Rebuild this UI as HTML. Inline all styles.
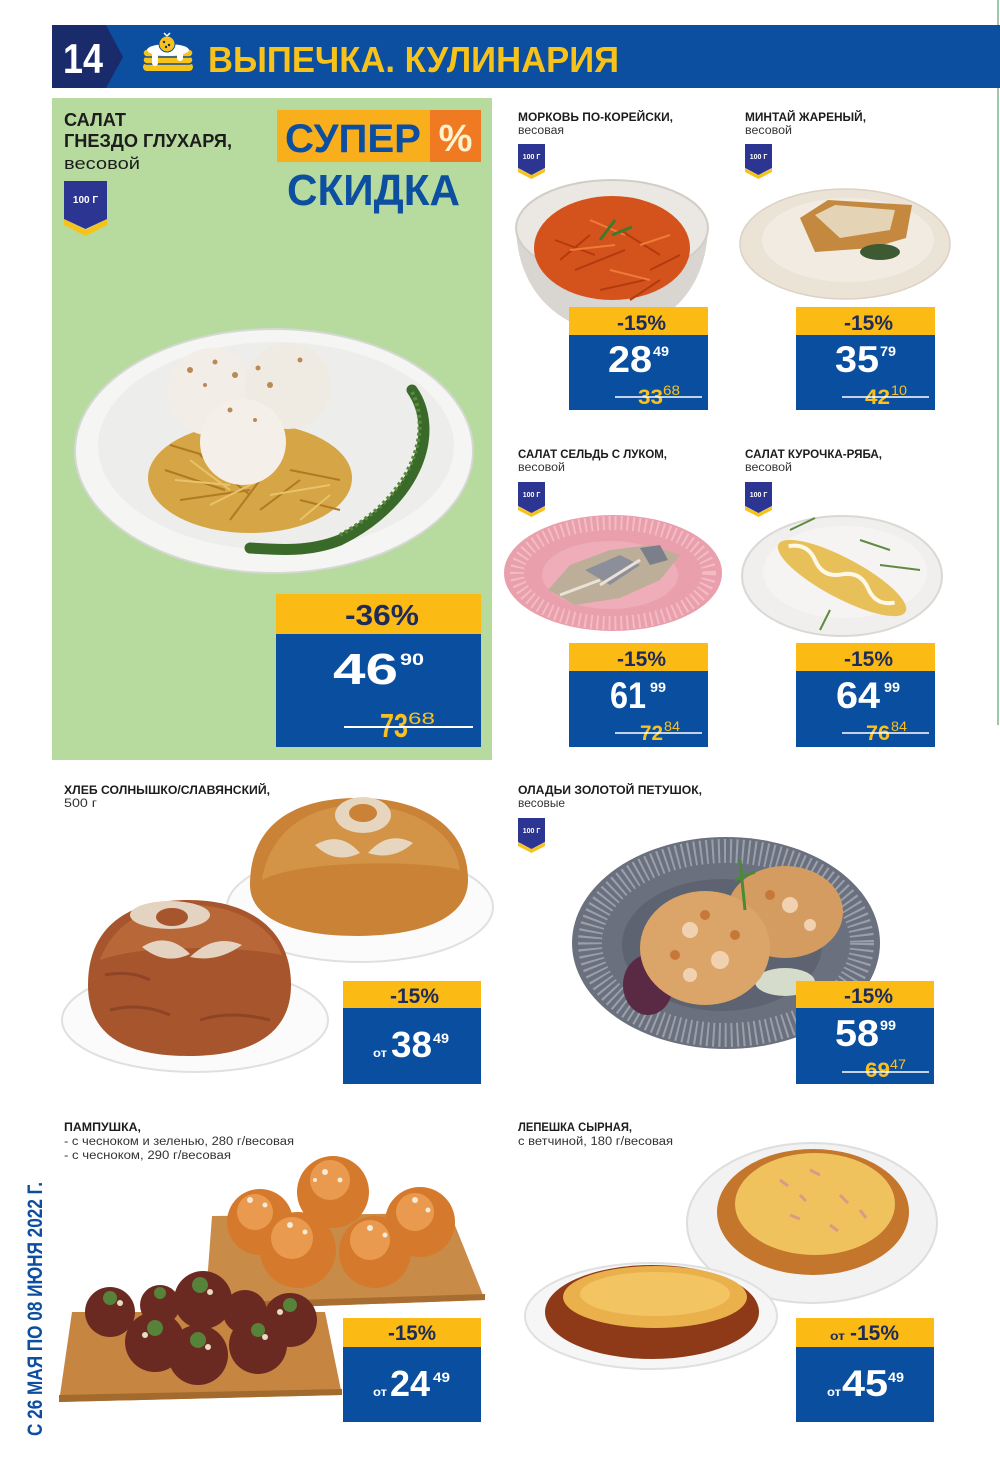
<!DOCTYPE html>
<html><head><meta charset="utf-8"><style>
html,body{margin:0;padding:0;background:#fff;}
svg{display:block;}
text{font-family:"Liberation Sans","DejaVu Sans",sans-serif;}
.b{font-weight:bold;}
</style></head><body>
<svg width="1000" height="1462" viewBox="0 0 1000 1462" xmlns="http://www.w3.org/2000/svg">
<rect width="1000" height="1462" fill="#fff"/>
<!-- right edge line -->
<rect x="997" y="0" width="2" height="725" fill="#9cc8a2"/>

<!-- HEADER -->
<rect x="52" y="25" width="948" height="63" fill="#0c4ea0"/>
<polygon points="52,25 106,25 123,57 106,88 52,88" fill="#1a2b6b"/>
<text x="63" y="73" class="b" font-size="42" fill="#fff" textLength="40" lengthAdjust="spacingAndGlyphs">14</text>
<!-- icon -->
<g>
<rect x="143" y="63" width="50" height="8" rx="4" fill="#f7c31a"/>
<rect x="143" y="56" width="50" height="8" rx="4" fill="#f7c31a" stroke="#0c4ea0" stroke-width="1.5"/>
<rect x="143" y="49" width="50" height="8" rx="4" fill="#f7c31a" stroke="#0c4ea0" stroke-width="1.5"/>
<ellipse cx="168" cy="50" rx="21" ry="6" fill="#fff"/>
<rect x="152" y="50" width="6" height="16" rx="3" fill="#fff"/>
<rect x="177" y="50" width="6" height="11" rx="3" fill="#fff"/>
<circle cx="167" cy="44" r="8" fill="#f7c31a" stroke="#0c4ea0" stroke-width="1"/>
<circle cx="164" cy="42" r="1.2" fill="#1a2b6b"/><circle cx="169" cy="45" r="1.2" fill="#1a2b6b"/><circle cx="166" cy="47" r="1.2" fill="#1a2b6b"/>
<path d="M167 36 l-3 -3 M167 36 l3 -3" stroke="#fff" stroke-width="1.5"/>
</g>
<text x="208" y="72" class="b" font-size="36" fill="#f7c31a" textLength="411" lengthAdjust="spacingAndGlyphs">ВЫПЕЧКА. КУЛИНАРИЯ</text>

<!-- GREEN PANEL -->
<rect x="52" y="98" width="440" height="662" fill="#b7da9f"/>
<text x="64" y="126" class="b" font-size="18" fill="#1c1c1c" textLength="62" lengthAdjust="spacingAndGlyphs">САЛАТ</text>
<text x="64" y="147" class="b" font-size="18" fill="#1c1c1c" textLength="168" lengthAdjust="spacingAndGlyphs">ГНЕЗДО ГЛУХАРЯ,</text>
<text x="64" y="169" font-size="17" fill="#1c1c1c" textLength="76" lengthAdjust="spacingAndGlyphs">весовой</text>
<!-- big badge -->
<polygon points="64,219 85.5,230 107,219 107,225 85.5,236 64,225" fill="#f7c31a"/>
<polygon points="64,181 107,181 107,219 85.5,229 64,219" fill="#2d3592"/>
<text x="85.5" y="203" class="b" font-size="10" fill="#fff" text-anchor="middle">100 Г</text>
<!-- super skidka -->
<rect x="277" y="110" width="154" height="52" fill="#f9ae1c"/>
<rect x="430" y="110" width="51" height="52" fill="#f07a22"/>
<text x="285" y="152" class="b" font-size="40" fill="#0c4ea0" textLength="136" lengthAdjust="spacingAndGlyphs">СУПЕР</text>
<text x="455.5" y="151" class="b" font-size="38" fill="#fff2d0" text-anchor="middle">%</text>
<text x="287" y="205" class="b" font-size="44" fill="#0c4ea0" textLength="173" lengthAdjust="spacingAndGlyphs">СКИДКА</text>
<!-- main plate -->
<ellipse cx="274" cy="451" rx="199" ry="122" fill="#f5f5f3" stroke="#d5d8d2" stroke-width="2"/>
<ellipse cx="276" cy="446" rx="178" ry="104" fill="#ededeb"/>
<ellipse cx="250" cy="478" rx="102" ry="55" fill="#d6a545"/>
<g stroke="#b07a25" stroke-width="2" fill="none">
<path d="M165 470 l60 20 M180 500 l70 -10 M200 455 l50 40 M260 510 l40 -30 M290 470 l50 10 M170 445 l50 15 M230 520 l30 -40 M300 500 l40 10"/>
</g>
<g stroke="#e8c36a" stroke-width="2" fill="none">
<path d="M175 480 l55 5 M210 505 l50 -25 M270 495 l60 -10 M190 460 l40 30 M300 520 l30 -25"/>
</g>
<circle cx="212" cy="392" r="44" fill="#f2eee7"/>
<circle cx="288" cy="386" r="43" fill="#efebe3"/>
<circle cx="243" cy="442" r="43" fill="#f4f0e9"/>
<g fill="#b98a55">
<circle cx="190" cy="370" r="3"/><circle cx="215" cy="362" r="2.5"/><circle cx="235" cy="375" r="3"/><circle cx="258" cy="368" r="2.5"/><circle cx="270" cy="385" r="3"/><circle cx="300" cy="360" r="2.5"/><circle cx="230" cy="410" r="2.5"/><circle cx="255" cy="420" r="2"/><circle cx="205" cy="385" r="2"/>
</g>
<path d="M412 390 C 440 430, 420 500, 340 540 C 310 552, 280 550, 250 548" stroke="#3a6a2a" stroke-width="11" fill="none" stroke-linecap="round"/>
<path d="M412 392 C 432 430, 414 495, 340 535" stroke="#5b8a3c" stroke-width="4" fill="none" stroke-dasharray="3 3"/>
<!-- big tag -->
<rect x="276" y="594" width="205" height="153" fill="#0a4f9f"/>
<rect x="276" y="594" width="205" height="40" fill="#fbbb14"/>
<text x="345" y="625" class="b" font-size="29" fill="#1e2a5a" textLength="74" lengthAdjust="spacingAndGlyphs">-36%</text>
<text x="333" y="684" class="b" font-size="44" fill="#fff" textLength="65" lengthAdjust="spacingAndGlyphs">46</text>
<text x="400" y="665" class="b" font-size="17" fill="#fff" textLength="24" lengthAdjust="spacingAndGlyphs">90</text>
<text x="380" y="737" class="b" font-size="33" fill="#f9c020" textLength="28" lengthAdjust="spacingAndGlyphs">73</text>
<text x="408" y="724" font-size="17" fill="#f9c020" textLength="27" lengthAdjust="spacingAndGlyphs">68</text>
<line x1="344" y1="727" x2="473" y2="727" stroke="#fff" stroke-width="2"/>

<!-- ROW 1 RIGHT -->
<text x="518" y="121" class="b" font-size="12" fill="#1c1c1c" textLength="155" lengthAdjust="spacingAndGlyphs">МОРКОВЬ ПО-КОРЕЙСКИ,</text>
<text x="518" y="134" font-size="11.5" fill="#333" textLength="46" lengthAdjust="spacingAndGlyphs">весовая</text>
<text x="745" y="121" class="b" font-size="12" fill="#1c1c1c" textLength="121" lengthAdjust="spacingAndGlyphs">МИНТАЙ ЖАРЕНЫЙ,</text>
<text x="745" y="134" font-size="11.5" fill="#333" textLength="47" lengthAdjust="spacingAndGlyphs">весовой</text>
<!-- small badges -->
<g id="sb1">
<polygon points="518,168.5 531.5,175 545,168.5 545,172 531.5,179 518,172" fill="#f7c31a"/>
<polygon points="518,144 545,144 545,168 531.5,175 518,168" fill="#2d3592"/>
<text x="531.5" y="159" class="b" font-size="7" fill="#fff" text-anchor="middle">100 Г</text>
</g>
<use href="#sb1" x="227" y="0"/>
<use href="#sb1" x="0" y="338"/>
<use href="#sb1" x="227" y="338"/>
<use href="#sb1" x="0" y="674"/>
<!-- carrot bowl -->
<path d="M516 228 C 518 300, 570 332, 612 332 C 654 332, 706 300, 708 228 Z" fill="#d9d5d0"/>
<ellipse cx="612" cy="228" rx="96" ry="48" fill="#ebe8e4" stroke="#d2cdc7" stroke-width="2"/>
<ellipse cx="612" cy="248" rx="78" ry="52" fill="#d4531c"/>
<g stroke="#b33a10" stroke-width="2" fill="none">
<path d="M555 240 l40 15 M575 270 l50 -20 M620 230 l40 25 M600 290 l45 -10 M650 270 l30 -15 M560 260 l30 -25 M630 300 l30 -20"/>
</g>
<g stroke="#ef7a3a" stroke-width="2" fill="none">
<path d="M570 250 l45 -5 M610 270 l40 10 M590 220 l35 15 M640 245 l30 -10"/>
</g>
<path d="M600 240 l15 -20 M612 235 l20 -8" stroke="#3f7a2a" stroke-width="3"/>
<!-- mintai plate -->
<ellipse cx="845" cy="244" rx="105" ry="55" fill="#ece3d7" stroke="#dcd1c3" stroke-width="1.5"/>
<ellipse cx="848" cy="240" rx="86" ry="42" fill="#f2ebe2"/>
<polygon points="800,218 828,200 912,205 906,238 872,248 815,252" fill="#c4883e"/>
<polygon points="815,215 835,205 895,210 890,230 840,238" fill="#e4d3b5"/>
<ellipse cx="880" cy="252" rx="20" ry="8" fill="#3d5a32"/>
<!-- ROW 1 TAGS -->
<g>
<rect x="569" y="307" width="139" height="103" fill="#0a4f9f"/>
<rect x="569" y="307" width="139" height="28" fill="#fbbb14"/>
<text x="617" y="330" class="b" font-size="21" fill="#1e2a5a" textLength="49" lengthAdjust="spacingAndGlyphs">-15%</text>
<text x="608" y="372" class="b" font-size="37" fill="#fff" textLength="44" lengthAdjust="spacingAndGlyphs">28</text>
<text x="653" y="356" class="b" font-size="14" fill="#fff" textLength="16" lengthAdjust="spacingAndGlyphs">49</text>
<text x="638" y="404" class="b" font-size="21" fill="#f9c020" textLength="25" lengthAdjust="spacingAndGlyphs">33</text>
<text x="663" y="395" font-size="14" fill="#f9c020" textLength="17" lengthAdjust="spacingAndGlyphs">68</text>
<line x1="615" y1="397" x2="702" y2="397" stroke="#fff" stroke-width="1.5"/>
</g>
<g>
<rect x="796" y="307" width="139" height="103" fill="#0a4f9f"/>
<rect x="796" y="307" width="139" height="28" fill="#fbbb14"/>
<text x="844" y="330" class="b" font-size="21" fill="#1e2a5a" textLength="49" lengthAdjust="spacingAndGlyphs">-15%</text>
<text x="835" y="372" class="b" font-size="37" fill="#fff" textLength="44" lengthAdjust="spacingAndGlyphs">35</text>
<text x="880" y="356" class="b" font-size="14" fill="#fff" textLength="16" lengthAdjust="spacingAndGlyphs">79</text>
<text x="865" y="404" class="b" font-size="21" fill="#f9c020" textLength="25" lengthAdjust="spacingAndGlyphs">42</text>
<text x="891" y="395" font-size="14" fill="#f9c020" textLength="16" lengthAdjust="spacingAndGlyphs">10</text>
<line x1="842" y1="397" x2="929" y2="397" stroke="#fff" stroke-width="1.5"/>
</g>

<!-- ROW 2 RIGHT -->
<text x="518" y="458" class="b" font-size="12" fill="#1c1c1c" textLength="149" lengthAdjust="spacingAndGlyphs">САЛАТ СЕЛЬДЬ С ЛУКОМ,</text>
<text x="518" y="471" font-size="11.5" fill="#333" textLength="47" lengthAdjust="spacingAndGlyphs">весовой</text>
<text x="745" y="458" class="b" font-size="12" fill="#1c1c1c" textLength="137" lengthAdjust="spacingAndGlyphs">САЛАТ КУРОЧКА-РЯБА,</text>
<text x="745" y="471" font-size="11.5" fill="#333" textLength="47" lengthAdjust="spacingAndGlyphs">весовой</text>
<!-- pink plate -->
<ellipse cx="613" cy="573" rx="109" ry="58" fill="#e9a0ac"/>
<ellipse cx="613" cy="573" rx="96" ry="50" fill="none" stroke="#f3bcc4" stroke-width="14" stroke-dasharray="2 4"/>
<ellipse cx="610" cy="575" rx="68" ry="34" fill="#eeadb8"/>
<polygon points="548,590 570,565 610,550 650,545 680,555 660,580 620,598 575,605" fill="#bcae98"/>
<polygon points="585,570 620,555 640,565 610,585" fill="#8c8f99"/>
<polygon points="640,548 660,545 668,560 650,565" fill="#7a7f8a"/>
<path d="M560 595 l40 -15 M600 585 l40 -25" stroke="#e9e2d6" stroke-width="3"/>
<!-- white plate kurochka -->
<ellipse cx="842" cy="576" rx="100" ry="60" fill="#f0efed" stroke="#dad8d4" stroke-width="2"/>
<ellipse cx="845" cy="572" rx="82" ry="46" fill="#f5f4f2"/>
<g transform="rotate(28 842 578)">
<ellipse cx="842" cy="578" rx="72" ry="20" fill="#e8c05a"/>
<path d="M780 575 q 15 -12 30 0 t 30 0 t 30 0 t 30 0" stroke="#fff8e6" stroke-width="4" fill="none"/>
</g>
<path d="M790 530 l25 -12 M880 565 l40 5 M830 610 l-10 20 M860 540 l30 10" stroke="#5f8a44" stroke-width="2"/>
<!-- ROW 2 TAGS -->
<g>
<rect x="569" y="643" width="139" height="104" fill="#0a4f9f"/>
<rect x="569" y="643" width="139" height="28" fill="#fbbb14"/>
<text x="617" y="666" class="b" font-size="21" fill="#1e2a5a" textLength="49" lengthAdjust="spacingAndGlyphs">-15%</text>
<text x="610" y="708" class="b" font-size="37" fill="#fff" textLength="36" lengthAdjust="spacingAndGlyphs">61</text>
<text x="650" y="692" class="b" font-size="14" fill="#fff" textLength="16" lengthAdjust="spacingAndGlyphs">99</text>
<text x="640" y="740" class="b" font-size="21" fill="#f9c020" textLength="23" lengthAdjust="spacingAndGlyphs">72</text>
<text x="664" y="731" font-size="14" fill="#f9c020" textLength="16" lengthAdjust="spacingAndGlyphs">84</text>
<line x1="615" y1="733" x2="702" y2="733" stroke="#fff" stroke-width="1.5"/>
</g>
<g>
<rect x="796" y="643" width="139" height="104" fill="#0a4f9f"/>
<rect x="796" y="643" width="139" height="28" fill="#fbbb14"/>
<text x="844" y="666" class="b" font-size="21" fill="#1e2a5a" textLength="49" lengthAdjust="spacingAndGlyphs">-15%</text>
<text x="836" y="708" class="b" font-size="37" fill="#fff" textLength="44" lengthAdjust="spacingAndGlyphs">64</text>
<text x="884" y="692" class="b" font-size="14" fill="#fff" textLength="16" lengthAdjust="spacingAndGlyphs">99</text>
<text x="866" y="740" class="b" font-size="21" fill="#f9c020" textLength="24" lengthAdjust="spacingAndGlyphs">76</text>
<text x="891" y="731" font-size="14" fill="#f9c020" textLength="16" lengthAdjust="spacingAndGlyphs">84</text>
<line x1="842" y1="733" x2="929" y2="733" stroke="#fff" stroke-width="1.5"/>
</g>

<!-- ROW 3 LEFT: BREAD -->
<text x="64" y="794" class="b" font-size="12" fill="#1c1c1c" textLength="206" lengthAdjust="spacingAndGlyphs">ХЛЕБ СОЛНЫШКО/СЛАВЯНСКИЙ,</text>
<text x="64" y="807" font-size="11.5" fill="#333" textLength="33" lengthAdjust="spacingAndGlyphs">500 г</text>
<ellipse cx="360" cy="907" rx="133" ry="55" fill="#fbfbfb" stroke="#e0e0e0" stroke-width="2"/>
<path d="M250 885 C 250 820, 300 798, 358 798 C 420 798, 468 825, 468 880 C 468 915, 430 935, 358 936 C 285 936, 250 915, 250 885 Z" fill="#c98236"/>
<path d="M262 880 C 270 830, 310 805, 358 805 C 410 805, 455 830, 460 870 C 420 860, 300 860, 262 880 Z" fill="#d39447"/>
<g fill="#e6d6bf">
<path d="M335 815 a 28 18 0 0 1 56 0 a 28 18 0 0 1 -56 0 Z"/>
<path d="M315 845 q 25 -15 45 8 q -25 12 -45 -8 Z"/>
<path d="M368 853 q 20 -23 45 -10 q -20 18 -45 10 Z"/>
</g>
<ellipse cx="363" cy="813" rx="14" ry="9" fill="#c98236"/>
<ellipse cx="195" cy="1020" rx="133" ry="52" fill="#fbfbfb" stroke="#e0e0e0" stroke-width="2"/>
<path d="M88 985 C 88 925, 130 900, 188 900 C 250 900, 291 930, 291 985 C 291 1035, 250 1056, 188 1056 C 125 1056, 88 1035, 88 985 Z" fill="#a6552d"/>
<path d="M100 960 C 115 920, 150 905, 190 905 C 235 905, 270 925, 282 955 C 230 945, 140 945, 100 960 Z" fill="#b86738"/>
<g fill="#e4d3c0">
<path d="M130 915 a 40 14 0 0 1 80 0 a 40 14 0 0 1 -80 0 Z"/>
<path d="M142 947 q 25 -16 48 7 q -25 12 -48 -7 Z"/>
<path d="M190 957 q 25 -24 52 -12 q -25 18 -52 12 Z"/>
</g>
<ellipse cx="172" cy="917" rx="16" ry="9" fill="#a6552d"/>
<g stroke="#7e3a22" stroke-width="3" fill="none" opacity="0.6">
<path d="M110 1010 q 30 -8 60 5 M200 1020 q 30 -10 70 0 M105 975 q 25 -5 45 5"/>
</g>
<!-- bread tag -->
<rect x="343" y="981" width="138" height="103" fill="#0a4f9f"/>
<rect x="343" y="981" width="138" height="27" fill="#fbbb14"/>
<text x="390" y="1003" class="b" font-size="21" fill="#1e2a5a" textLength="49" lengthAdjust="spacingAndGlyphs">-15%</text>
<text x="373" y="1057" class="b" font-size="12" fill="#fff" textLength="14" lengthAdjust="spacingAndGlyphs">от</text>
<text x="391" y="1057" class="b" font-size="36" fill="#fff" textLength="41" lengthAdjust="spacingAndGlyphs">38</text>
<text x="433" y="1043" class="b" font-size="14" fill="#fff" textLength="16" lengthAdjust="spacingAndGlyphs">49</text>

<!-- ROW 3 RIGHT: OLADYI -->
<text x="518" y="794" class="b" font-size="12" fill="#1c1c1c" textLength="184" lengthAdjust="spacingAndGlyphs">ОЛАДЬИ ЗОЛОТОЙ ПЕТУШОК,</text>
<text x="518" y="807" font-size="11.5" fill="#333" textLength="47" lengthAdjust="spacingAndGlyphs">весовые</text>
<ellipse cx="726" cy="943" rx="154" ry="106" fill="#6a707d"/>
<ellipse cx="726" cy="943" rx="136" ry="92" fill="none" stroke="#9aa0ab" stroke-width="24" stroke-dasharray="2 4"/>
<ellipse cx="722" cy="945" rx="100" ry="66" fill="#5d6371"/>
<ellipse cx="648" cy="985" rx="25" ry="30" fill="#5a2a44"/>
<ellipse cx="785" cy="982" rx="30" ry="14" fill="#d6dccb"/>
<ellipse cx="785" cy="912" rx="58" ry="46" fill="#d59c62"/>
<ellipse cx="705" cy="948" rx="65" ry="57" fill="#dba569"/>
<g fill="#f0d2b0">
<circle cx="690" cy="930" r="8"/><circle cx="720" cy="960" r="9"/><circle cx="690" cy="975" r="7"/><circle cx="790" cy="905" r="8"/><circle cx="810" cy="925" r="6"/>
</g>
<g fill="#c77838">
<circle cx="705" cy="915" r="5"/><circle cx="735" cy="935" r="5"/><circle cx="675" cy="955" r="5"/><circle cx="770" cy="895" r="5"/>
</g>
<path d="M740 860 l5 50 M735 880 l20 -8" stroke="#4a8a36" stroke-width="3"/>
<!-- oladyi tag -->
<rect x="796" y="981" width="138" height="103" fill="#0a4f9f"/>
<rect x="796" y="981" width="138" height="27" fill="#fbbb14"/>
<text x="844" y="1003" class="b" font-size="21" fill="#1e2a5a" textLength="49" lengthAdjust="spacingAndGlyphs">-15%</text>
<text x="835" y="1046" class="b" font-size="37" fill="#fff" textLength="44" lengthAdjust="spacingAndGlyphs">58</text>
<text x="880" y="1030" class="b" font-size="14" fill="#fff" textLength="16" lengthAdjust="spacingAndGlyphs">99</text>
<text x="865" y="1077" class="b" font-size="21" fill="#f9c020" textLength="25" lengthAdjust="spacingAndGlyphs">69</text>
<text x="890" y="1069" font-size="14" fill="#f9c020" textLength="16" lengthAdjust="spacingAndGlyphs">47</text>
<line x1="842" y1="1072" x2="929" y2="1072" stroke="#fff" stroke-width="1.5"/>

<!-- ROW 4 LEFT: PAMPUSHKA -->
<text x="64" y="1131" class="b" font-size="12" fill="#1c1c1c" textLength="77" lengthAdjust="spacingAndGlyphs">ПАМПУШКА,</text>
<text x="64" y="1145" font-size="11.5" fill="#333" textLength="230" lengthAdjust="spacingAndGlyphs">- с чесноком и зеленью, 280 г/весовая</text>
<text x="64" y="1159" font-size="11.5" fill="#333" textLength="167" lengthAdjust="spacingAndGlyphs">- с чесноком, 290 г/весовая</text>
<polygon points="212,1216 450,1213 485,1300 205,1310" fill="#c98b48"/>
<polygon points="205,1303 485,1294 485,1300 205,1310" fill="#a86d30"/>
<g fill="#d57a2c">
<circle cx="260" cy="1222" r="33"/><circle cx="420" cy="1222" r="35"/><circle cx="333" cy="1192" r="36"/><circle cx="298" cy="1250" r="38"/><circle cx="375" cy="1252" r="36"/>
</g>
<g fill="#ea9a4e">
<circle cx="255" cy="1212" r="18"/><circle cx="415" cy="1212" r="19"/><circle cx="330" cy="1180" r="20"/><circle cx="292" cy="1238" r="21"/><circle cx="370" cy="1240" r="20"/>
</g>
<g fill="#f3ead8">
<circle cx="250" cy="1200" r="3"/><circle cx="265" cy="1205" r="2.5"/><circle cx="325" cy="1172" r="3"/><circle cx="340" cy="1180" r="2.5"/><circle cx="415" cy="1200" r="3"/><circle cx="428" cy="1210" r="2.5"/><circle cx="290" cy="1225" r="3"/><circle cx="305" cy="1232" r="2.5"/><circle cx="370" cy="1228" r="3"/><circle cx="385" cy="1235" r="2.5"/><circle cx="315" cy="1180" r="2"/>
</g>
<polygon points="72,1312 325,1312 342,1395 59,1402" fill="#c68642"/>
<polygon points="59,1395 342,1389 342,1395 59,1402" fill="#a36a2e"/>
<g fill="#6a2a22">
<circle cx="110" cy="1312" r="25"/><circle cx="203" cy="1300" r="29"/><circle cx="290" cy="1320" r="27"/><circle cx="245" cy="1312" r="22"/><circle cx="155" cy="1342" r="30"/><circle cx="198" cy="1355" r="30"/><circle cx="258" cy="1345" r="29"/><circle cx="160" cy="1305" r="20"/>
</g>
<g fill="#56823a">
<circle cx="110" cy="1298" r="7"/><circle cx="200" cy="1285" r="8"/><circle cx="290" cy="1305" r="7"/><circle cx="155" cy="1328" r="8"/><circle cx="198" cy="1340" r="8"/><circle cx="258" cy="1330" r="7"/><circle cx="160" cy="1293" r="6"/>
</g>
<g fill="#e7dcc4">
<circle cx="120" cy="1303" r="3"/><circle cx="210" cy="1292" r="3"/><circle cx="280" cy="1312" r="3"/><circle cx="145" cy="1335" r="3"/><circle cx="208" cy="1347" r="3"/><circle cx="265" cy="1337" r="3"/>
</g>
<!-- pampushka tag -->
<rect x="343" y="1318" width="138" height="104" fill="#0a4f9f"/>
<rect x="343" y="1318" width="138" height="29" fill="#fbbb14"/>
<text x="388" y="1340" class="b" font-size="21" fill="#1e2a5a" textLength="48" lengthAdjust="spacingAndGlyphs">-15%</text>
<text x="373" y="1396" class="b" font-size="12" fill="#fff" textLength="14" lengthAdjust="spacingAndGlyphs">от</text>
<text x="390" y="1396" class="b" font-size="36" fill="#fff" textLength="40" lengthAdjust="spacingAndGlyphs">24</text>
<text x="433" y="1382" class="b" font-size="14" fill="#fff" textLength="17" lengthAdjust="spacingAndGlyphs">49</text>

<!-- ROW 4 RIGHT: LEPESHKA -->
<text x="518" y="1131" class="b" font-size="12" fill="#1c1c1c" textLength="114" lengthAdjust="spacingAndGlyphs">ЛЕПЕШКА СЫРНАЯ,</text>
<text x="518" y="1145" font-size="11.5" fill="#333" textLength="155" lengthAdjust="spacingAndGlyphs">с ветчиной, 180 г/весовая</text>
<ellipse cx="812" cy="1223" rx="125" ry="80" fill="#f2f2f2" stroke="#dedede" stroke-width="2"/>
<ellipse cx="813" cy="1212" rx="96" ry="63" fill="#c4762c"/>
<ellipse cx="815" cy="1204" rx="80" ry="51" fill="#efc25e"/>
<g stroke="#d99a86" stroke-width="3">
<path d="M780 1180 l8 6 M810 1170 l10 5 M840 1195 l8 8 M790 1215 l10 4 M830 1225 l8 6 M860 1210 l6 8 M800 1195 l6 6"/>
</g>
<ellipse cx="651" cy="1316" rx="126" ry="53" fill="#f6f6f6" stroke="#e0e0e0" stroke-width="2"/>
<ellipse cx="652" cy="1312" rx="107" ry="47" fill="#8e3a18"/>
<ellipse cx="655" cy="1297" rx="92" ry="31" fill="#eab04c"/>
<ellipse cx="655" cy="1294" rx="75" ry="22" fill="#f2c462"/>
<!-- lepeshka tag -->
<rect x="796" y="1318" width="138" height="104" fill="#0a4f9f"/>
<rect x="796" y="1318" width="138" height="29" fill="#fbbb14"/>
<text x="830" y="1340" class="b" font-size="12" fill="#1e2a5a" textLength="15" lengthAdjust="spacingAndGlyphs">от</text>
<text x="850" y="1340" class="b" font-size="21" fill="#1e2a5a" textLength="49" lengthAdjust="spacingAndGlyphs">-15%</text>
<text x="827" y="1396" class="b" font-size="12" fill="#fff" textLength="14" lengthAdjust="spacingAndGlyphs">от</text>
<text x="842" y="1396" class="b" font-size="37" fill="#fff" textLength="46" lengthAdjust="spacingAndGlyphs">45</text>
<text x="888" y="1382" class="b" font-size="14" fill="#fff" textLength="16" lengthAdjust="spacingAndGlyphs">49</text>

<!-- vertical date -->
<text transform="translate(42,1436) rotate(-90)" class="b" font-size="21" fill="#0c4ea0" textLength="254" lengthAdjust="spacingAndGlyphs">С 26 МАЯ ПО 08 ИЮНЯ 2022 Г.</text>
</svg>
</body></html>
